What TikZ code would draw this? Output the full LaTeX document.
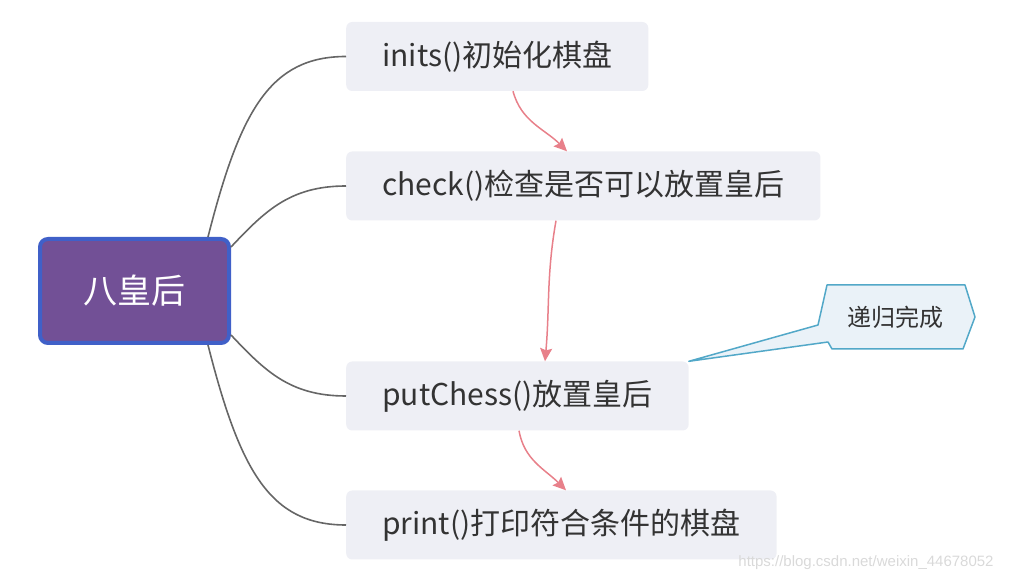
\documentclass[tikz,border=0pt]{standalone}
\usepackage{fontspec}
\setmainfont{Noto Sans CJK SC}
\newfontfamily\wmfont{Liberation Sans}
\usetikzlibrary{arrows.meta,positioning,calc}
\definecolor{rootfill}{HTML}{725096}
\definecolor{rootline}{HTML}{4060C8}
\definecolor{boxfill}{HTML}{EEEFF5}
\definecolor{branch}{HTML}{666666}
\definecolor{flow}{HTML}{E8808A}
\definecolor{notefill}{HTML}{EAF2F8}
\definecolor{noteline}{HTML}{52A8C8}
\definecolor{txt}{HTML}{333333}

\begin{document}
\begin{tikzpicture}[
  x=1pt,y=1pt,
  topic/.style={fill=boxfill,rounded corners=6pt,anchor=west,inner xsep=36pt,minimum height=69pt,text=txt,font=\fontsize{30pt}{32pt}\selectfont},
  rootbox/.style={draw=rootline,line width=4pt,fill=rootfill,rounded corners=8pt,minimum width=189pt,minimum height=104pt,text=white,font=\fontsize{34pt}{36pt}\selectfont},
  br/.style={draw=branch,line width=1.6pt},
  ar/.style={-{Stealth[length=13pt,width=12pt,inset=2pt]},draw=flow,line width=1.5pt}
]
\useasboundingbox (0,0) rectangle (1012,581);
\node[rootbox] (root) at (134.5,290) {八皇后};
\node[topic] (inits) at (346,524.5) {inits()初始化棋盘};
\node[topic] (check) at (346,395) {check()检查是否可以放置皇后};
\node[topic] (put) at (346,185) {putChess()放置皇后};
\node[topic] (print) at (346,56) {print()打印符合条件的棋盘};
% branches
\draw[br] ([xshift=-23pt]root.north east) .. controls +(32,126) and (270,524.5) .. (inits.west);
\draw[br] ([yshift=-10pt]root.north east) .. controls +(34,36) and (290,395) .. (check.west);
\draw[br] ([yshift=10pt]root.south east) .. controls +(34,-36) and (290,185) .. (put.west);
\draw[br] ([xshift=-23pt]root.south east) .. controls +(32,-126) and (270,56) .. (print.west);
% flow
\draw[ar] ($(inits.south west)+(167,0)$) to[out=-75,in=135] ($(check.north west)+(221,0)$);
\draw[ar] ($(check.south west)+(210,0)$) to[out=-100,in=85] ($(put.north west)+(199,0)$);
\draw[ar] ($(put.south west)+(173,0)$) to[out=-80,in=135] ($(print.north west)+(220,0)$);
% callout
\coordinate (note) at (895,264);
\fill[notefill,draw=noteline,line width=1.5pt,line join=round]
  ($(note)+(-68,32)$) -- ($(note)+(70,32)$) -- ($(note)+(80,0)$)
  -- ($(note)+(68,-32)$) -- ($(note)+(-63,-32)$) -- ($(note)+(-67,-25)$)
  -- (put.north east) -- ($(note)+(-77,-8)$) -- cycle;
\node[text=txt,font=\fontsize{24pt}{26pt}\selectfont] (notetext) at (note) {递归完成};
\node[text=black!15,font=\wmfont\fontsize{15pt}{17pt}\selectfont] (wm) at (866,18) {https://blog.csdn.net/weixin\_44678052};
\end{tikzpicture}
\end{document}
